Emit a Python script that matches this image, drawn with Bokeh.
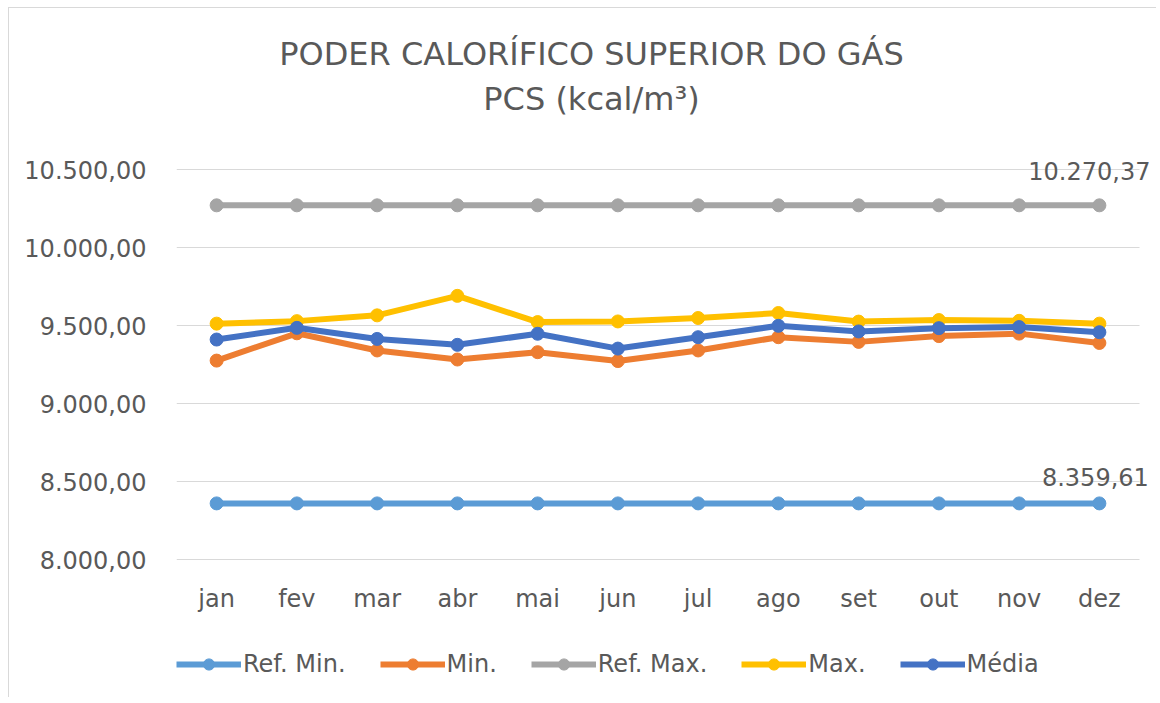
from bokeh.plotting import figure
from bokeh.models import (ColumnDataSource, CustomJSTickFormatter, FixedTicker,
                          Legend, LegendItem, Label, LabelSet, Range1d)
from bokeh.core.properties import value
from bokeh.embed import file_html
from bokeh.resources import INLINE

# ---- data ----
months = ["jan", "fev", "mar", "abr", "mai", "jun", "jul", "ago", "set", "out", "nov", "dez"]
ref_min = [8359.61, 8359.61, 8359.61, 8359.61, 8359.61, 8359.61,
           8359.61, 8359.61, 8359.61, 8359.61, 8359.61, 8359.61]
min_vals = [9275, 9450, 9340, 9282, 9329, 9272, 9340, 9425, 9395, 9432, 9448, 9388]
ref_max = [10270.37, 10270.37, 10270.37, 10270.37, 10270.37, 10270.37,
           10270.37, 10270.37, 10270.37, 10270.37, 10270.37, 10270.37]
max_vals = [9512, 9528, 9565, 9690, 9522, 9526, 9548, 9580, 9525, 9535, 9530, 9512]
media = [9410, 9485, 9414, 9376, 9447, 9352, 9425, 9498, 9462, 9483, 9490, 9457]
y_ticks = [8000, 8500, 9000, 9500, 10000, 10500]
series_names = ["Ref. Min.", "Min.", "Ref. Max.", "Max.", "Média"]
series_colors = ["#5B9BD5", "#ED7D31", "#A5A5A5", "#FFC000", "#4472C4"]
title_lines = ["PODER CALORÍFICO SUPERIOR DO GÁS", "PCS (kcal/m³)"]

FONT = "DejaVu Sans"
TXT = "#595959"

# ---- layout (pixels) ----
W, H = 1148, 690            # canvas size
LEFT = 167                  # space for the value axis
GRID_TOP, GRID_BOTTOM = 161, 551   # pixel rows of top / bottom tick (canvas coords)
CAT_W = 80.25               # pixels per category

def fmt_br(v):
    s = f"{v:,.2f}"
    return s.replace(",", "X").replace(".", ",").replace("X", ".")


idx = list(range(len(months)))
x_lo = -0.5
x_hi = len(months) - 0.5
x_end = x_lo + (W - LEFT) / CAT_W

per_px = (y_ticks[-1] - y_ticks[0]) / (GRID_BOTTOM - GRID_TOP)
y_top = y_ticks[-1] + GRID_TOP * per_px
y_bot = y_ticks[0] - (H - GRID_BOTTOM) * per_px

p = figure(x_range=Range1d(x_lo, x_end), y_range=Range1d(y_bot, y_top),
           width=W, height=H, output_backend="svg", toolbar_location=None,
           x_axis_location=None, title=None,
           min_border_left=LEFT, min_border_right=0, min_border_top=0,
           min_border_bottom=0)
p.styles = {"margin-left": "8px", "margin-top": "7px",
            "border-left": "1px solid #d9d9d9", "border-top": "1px solid #d9d9d9"}
p.outline_line_color = None
p.background_fill_color = "white"
p.border_fill_color = "white"
p.xgrid.visible = False
p.ygrid.visible = False

# value axis
p.yaxis.ticker = FixedTicker(ticks=y_ticks)
p.yaxis.formatter = CustomJSTickFormatter(code=r"""
const s = tick.toFixed(2).split('.');
return s[0].replace(/\B(?=(\d{3})+(?!\d))/g, '.') + ',' + s[1];
""")
ax = p.yaxis[0]
ax.axis_line_color = None
ax.major_tick_line_color = None
ax.minor_tick_line_color = None
ax.major_tick_out = 0
ax.major_tick_in = 0
ax.minor_tick_out = 0
ax.minor_tick_in = 0
ax.major_label_text_font = FONT
ax.major_label_text_font_size = "24px"
ax.major_label_text_color = TXT
ax.major_label_standoff = 30

# horizontal gridlines spanning the category band
p.segment(x0=[x_lo] * len(y_ticks), x1=[x_hi] * len(y_ticks), y0=y_ticks, y1=y_ticks,
          line_color="#D9D9D9", line_width=1)

# category labels
cat_src = ColumnDataSource(dict(x=idx, y=[y_ticks[0]] * len(idx), t=months))
p.add_layout(LabelSet(x="x", y="y", text="t", source=cat_src, y_offset=-39,
                      text_align="center", text_baseline="middle",
                      text_font=value(FONT), text_font_size="24px", text_color=TXT))

# series
all_series = [ref_min, min_vals, ref_max, max_vals, media]
items = []
for name, vals, col in zip(series_names, all_series, series_colors):
    src = ColumnDataSource(dict(x=idx, y=vals))
    lr = p.line("x", "y", source=src, line_color=col, line_width=6)
    sr = p.scatter("x", "y", source=src, size=13, fill_color=col, line_color=col)
    items.append(LegendItem(label=name, renderers=[lr, sr]))

legend = Legend(items=items, orientation="horizontal", location=(0, 20),
                glyph_width=65, glyph_height=28, label_standoff=2, spacing=34,
                padding=0, margin=0, border_line_color=None,
                background_fill_alpha=0, label_text_font=FONT,
                label_text_font_size="24px", label_text_color=TXT)
p.add_layout(legend, "center")

# data labels for the reference lines
lab_src = ColumnDataSource(dict(
    x=[idx[-1], idx[-1]],
    y=[ref_max[-1], ref_min[-1]],
    t=[fmt_br(ref_max[-1]), fmt_br(ref_min[-1])],
    xo=[-10, -4],
    yo=[34, 26],
))
p.add_layout(LabelSet(x="x", y="y", text="t", source=lab_src, x_offset="xo",
                      y_offset="yo", text_align="center", text_baseline="middle",
                      text_font=value(FONT), text_font_size="24px", text_color=TXT))

# title (two lines), centred on the chart area
for line, y_pos in zip(title_lines, [H - 45, H - 90]):
    p.add_layout(Label(x=415, y=y_pos, x_units="screen", y_units="screen",
                       text=line, text_align="center", text_baseline="middle",
                       text_font=FONT, text_font_size="32px", text_color=TXT))

open("out.html", "w").write(file_html(p, INLINE))
